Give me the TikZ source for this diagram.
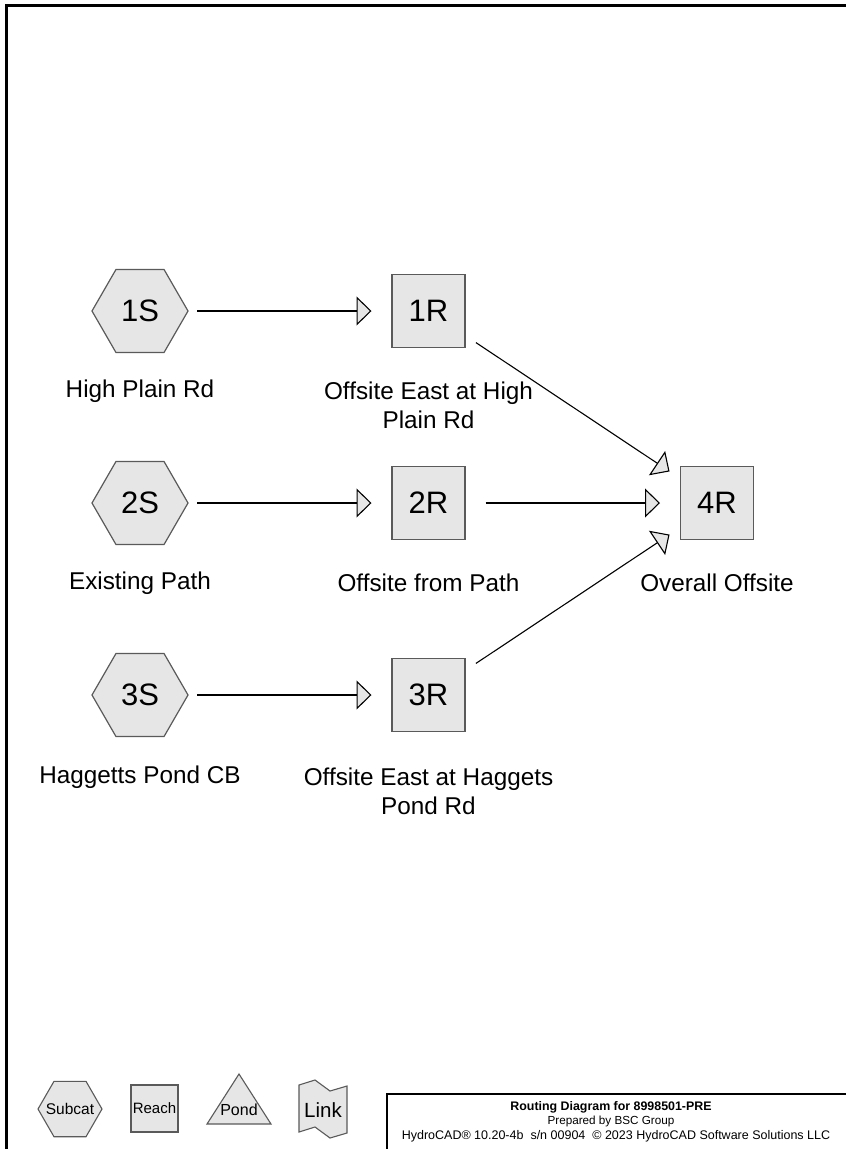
\documentclass[tikz,border=0pt]{standalone}
\usepackage{fontspec}
\setmainfont{Liberation Sans}
\usetikzlibrary{shapes.geometric,arrows.meta}
\definecolor{nodefill}{HTML}{E6E6E6}
\definecolor{nodeline}{HTML}{5A5A5A}
\begin{document}
\begin{tikzpicture}[x=1pt,y=-1pt,
  subcat/.style={regular polygon, regular polygon sides=6, minimum size=96pt, inner sep=0pt,
    draw=nodeline, fill=nodefill, line width=1.2pt, font=\fontsize{31}{36}\selectfont},
  reach/.style={rectangle, minimum size=73pt, inner sep=0pt,
    draw=nodeline, fill=nodefill, line width=1.2pt, font=\fontsize{31}{36}\selectfont},
  lbl/.style={align=center, font=\fontsize{24.3}{29}\selectfont, inner sep=0pt},
  flow/.style={line width=1.1pt, -{Triangle[length=15pt,width=29pt,fill=nodefill]},
    shorten <=57pt, shorten >=57pt},
  legshape/.style={draw=nodeline, fill=nodefill, line width=1.1pt},
  titletext/.style={inner sep=0pt, font=\fontsize{11.7}{14}\selectfont},
]
\useasboundingbox (0,0) rectangle (846,1149);
\fill[white] (0,0) rectangle (846,1149);
% frame
\draw[line width=3pt] (6,1155) -- (6,5) -- (852,5);

% main nodes
\node[subcat] (s1) at (140,311) {1S};
\node[subcat] (s2) at (140,503) {2S};
\node[subcat] (s3) at (140,695) {3S};
\node[reach] (r1) at (428.5,311) {1R};
\node[reach] (r2) at (428.5,503) {2R};
\node[reach] (r3) at (428.5,695) {3R};
\node[reach] (r4) at (717,503) {4R};

% labels
\node[lbl] (ls1) at (140,391) {High Plain Rd};
\node[lbl] (ls2) at (140,583) {Existing Path};
\node[lbl] (ls3) at (140,777) {Haggetts Pond CB};
\node[lbl] (lr1) at (428.5,405.5) {Offsite East at High\\Plain Rd};
\node[lbl] (lr2) at (428.5,583) {Offsite from Path};
\node[lbl] (lr3) at (428.5,791.5) {Offsite East at Haggets\\Pond Rd};
\node[lbl] (lr4) at (717,583) {Overall Offsite};

% connectors
\draw[flow] (s1.center) -- (r1.center);
\draw[flow] (s2.center) -- (r2.center);
\draw[flow] (s3.center) -- (r3.center);
\draw[flow] (r1.center) -- (r4.center);
\draw[flow] (r2.center) -- (r4.center);
\draw[flow] (r3.center) -- (r4.center);

% legend
\node[regular polygon, regular polygon sides=6, minimum size=64pt, inner sep=0pt, legshape]
  (legsub) at (70,1109) {};
\node[inner sep=0pt, font=\fontsize{15.5}{19}\selectfont] (legsubtxt) at (legsub.center) {Subcat};
\node[rectangle, minimum width=47pt, minimum height=47pt, inner sep=0pt, legshape,
  font=\fontsize{15}{18}\selectfont] (legreach) at (154.5,1108.5) {Reach};
\draw[legshape] (207,1124) -- (271,1124) -- (239,1074) -- cycle;
\node[inner sep=0pt, font=\fontsize{16}{19}\selectfont] (legpond) at (239,1110) {Pond};
\draw[legshape] (299,1085) -- (315,1080) -- (330,1091) -- (347,1086) -- (347,1133)
  -- (330,1138) -- (315,1127) -- (299,1132) -- cycle;
\node[inner sep=0pt, font=\fontsize{20.5}{24}\selectfont] (leglink) at (323,1110) {Link};

% title block
\draw[line width=2.5pt] (387,1155) -- (387,1094) -- (852,1094);
\node[titletext, font=\fontsize{12.4}{14}\selectfont\bfseries] (t1) at (611,1107) {Routing Diagram for 8998501-PRE};
\node[titletext] (t2) at (611,1121) {Prepared by BSC Group};
\node[titletext, font=\fontsize{12.5}{14}\selectfont] (t3) at (616,1136) {HydroCAD® 10.20-4b\ \ s/n 00904\ \ © 2023 HydroCAD Software Solutions LLC};
\end{tikzpicture}
\end{document}
